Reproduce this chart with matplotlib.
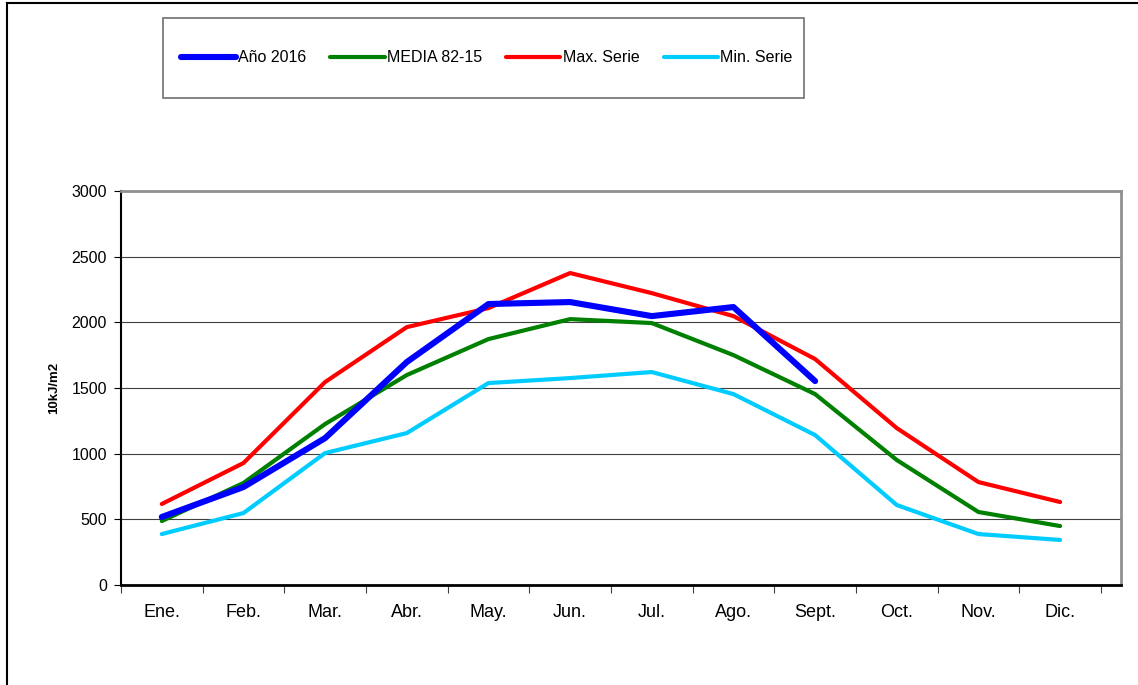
import numpy as np
import matplotlib.pyplot as plt
from matplotlib.lines import Line2D
from matplotlib.patches import Rectangle

plt.rcParams['font.family'] = ['Liberation Sans', 'DejaVu Sans']

months = ["Ene.", "Feb.", "Mar.", "Abr.", "May.", "Jun.", "Jul.", "Ago.", "Sept.", "Oct.", "Nov.", "Dic."]

ano_2016 = [518, 746, 1119, 1698, 2140, 2155, 2048, 2117, 1553]
media = [487, 777, 1226, 1599, 1873, 2025, 1995, 1751, 1454, 952, 556, 449]
max_serie = [617, 929, 1546, 1964, 2109, 2376, 2223, 2048, 1721, 1195, 784, 632]
min_serie = [388, 548, 1005, 1157, 1538, 1576, 1622, 1454, 1142, 609, 388, 343]

fig = plt.figure(figsize=(11.38, 6.85), dpi=100)
ax = fig.add_axes([0.1063, 0.146, 0.8787, 0.575])

x = np.arange(len(months))
ax.plot(x[:len(ano_2016)], ano_2016, color="#0000FF", lw=4.4, solid_capstyle="round",
        solid_joinstyle="round", label="Año 2016", zorder=5)
ax.plot(x, media, color="#008000", lw=3.0, solid_capstyle="round",
        solid_joinstyle="round", label="MEDIA 82-15", zorder=4)
ax.plot(x, max_serie, color="#FF0000", lw=3.0, solid_capstyle="round",
        solid_joinstyle="round", label="Max. Serie", zorder=4)
ax.plot(x, min_serie, color="#00CCFF", lw=3.0, solid_capstyle="round",
        solid_joinstyle="round", label="Min. Serie", zorder=4)

# the plot area runs a little past the last category
ax.set_xlim(-0.5, 11.745)
ax.set_ylim(0, 3000)
ax.set_yticks(np.arange(0, 3001, 500))
ax.set_xticks(x)
ax.set_xticklabels(months, fontsize=13)
ax.set_xticks(np.arange(-0.5, 12, 1), minor=True)
ax.tick_params(axis="x", which="major", length=0, pad=14)
ax.tick_params(axis="x", which="minor", length=6, width=0.8, color="#404040")
ax.tick_params(axis="y", length=5, width=0.8, labelsize=11.5, pad=5)
ax.yaxis.grid(True, color="#404040", lw=0.8)
ax.set_axisbelow(True)

ax.spines["left"].set_color("black")
ax.spines["left"].set_linewidth(1.5)
ax.spines["bottom"].set_color("black")
ax.spines["bottom"].set_linewidth(2.0)
ax.spines["top"].set_color("#909090")
ax.spines["top"].set_linewidth(2.0)
ax.spines["right"].set_color("#909090")
ax.spines["right"].set_linewidth(2.0)

ax.set_ylabel("10kJ/m2", fontsize=9.5, fontweight="bold")
ax.yaxis.set_label_coords(-0.061, 0.5)

# legend box
fig.patches.append(Rectangle((163 / 1138, 1 - 98 / 685), 641 / 1138, 80 / 685,
                             transform=fig.transFigure, fill=False,
                             edgecolor="#707070", lw=1.2))
fig.legend(loc="center", bbox_to_anchor=(487 / 1138, 1 - 58 / 685), ncol=4,
           frameon=False, fontsize=11.5, handlelength=3.4, handletextpad=0.15,
           columnspacing=1.5)

# outer frame
fig.lines.append(Line2D([7 / 1138, 1.0], [1 - 3 / 685, 1 - 3 / 685],
                        transform=fig.transFigure, color="black", lw=1.5))
fig.lines.append(Line2D([7 / 1138, 7 / 1138], [0, 1 - 3 / 685],
                        transform=fig.transFigure, color="black", lw=1.5))

fig.savefig("out.png", dpi=100)
